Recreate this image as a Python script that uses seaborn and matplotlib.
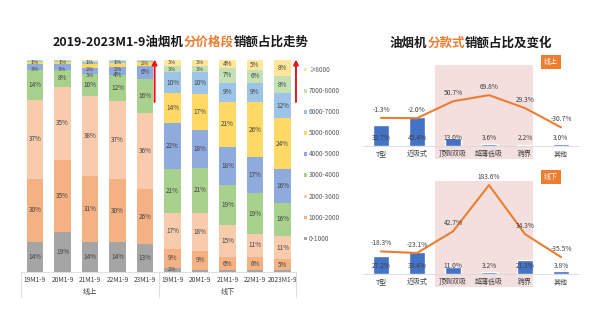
import numpy as np
import pandas as pd
import matplotlib
matplotlib.use("Agg")
import matplotlib.pyplot as plt
from matplotlib.patches import Patch
import seaborn as sns

sns.set_theme(style="white")
plt.rcParams['font.family'] = ['Noto Sans CJK SC', 'DejaVu Sans']
plt.rcParams['axes.unicode_minus'] = False

# ---------------- data ----------------
periods_online = ["19M1-9", "20M1-9", "21M1-9", "22M1-9", "23M1-9"]
periods_offline = ["19M1-9", "20M1-9", "21M1-9", "22M1-9", "2023M1-9"]
channels = ["线上", "线下"]
price_bands = ["0-1000", "1000-2000", "2000-3000", "3000-4000", "4000-5000",
               "5000-6000", "6000-7000", "7000-8000", "≥8000"]
# shares (%) per price band, 5 online bars then 5 offline bars
band_0_1000 = [14, 19, 14, 14, 13, 2, 1, 1, 1, 1]
band_1000_2000 = [30, 35, 31, 30, 26, 9, 9, 6, 6, 5]
band_2000_3000 = [37, 35, 38, 37, 36, 17, 18, 15, 11, 11]
band_3000_4000 = [14, 8, 10, 12, 16, 21, 21, 19, 19, 16]
band_4000_5000 = [3, 3, 3, 4, 6, 22, 18, 18, 17, 16]
band_5000_6000 = [1, 1, 2, 2, 2, 14, 17, 21, 26, 24]
band_6000_7000 = [0.5, 0.5, 1, 1, 0.5, 10, 10, 9, 9, 12]
band_7000_8000 = [0.3, 0.3, 0.5, 0.3, 0.3, 3, 3, 7, 6, 8]
band_8000_up = [0.2, 0.2, 0.5, 0.2, 0.2, 3, 3, 4, 5, 8]

styles = ["T型", "近吸式", "顶侧双吸", "超薄低吸", "跨界", "其他"]
online_share = [32.7, 45.4, 13.0, 3.6, 2.2, 3.0]
online_change = [-1.3, -2.0, 50.7, 69.8, 29.3, -30.7]
offline_share = [27.2, 33.4, 11.0, 3.2, 21.3, 3.8]
offline_change = [-18.3, -23.1, 42.7, 183.6, 34.3, -35.5]

band_colors = ['#a5a5a5', '#f4b183', '#f8cbad', '#a9d18e', '#8faadc',
               '#ffd966', '#9dc3e6', '#c5e0b4', '#ffe699']
BAR_BLUE = '#4472c4'
LINE_ORANGE = '#ed7d31'
TXT = '#404040'

W, H = 600, 327
fig = plt.figure(figsize=(W / 100, H / 100), dpi=100)


def fx(px):
    return px / W


def fy(py):
    return 1 - py / H


# ---------------- left stacked chart ----------------
bands = [band_0_1000, band_1000_2000, band_2000_3000, band_3000_4000, band_4000_5000,
         band_5000_6000, band_6000_7000, band_7000_8000, band_8000_up]
keys = [f"{c}|{p}" for c, ps in zip(channels, [periods_online, periods_offline]) for p in ps]
tick_labels = periods_online + periods_offline
vals = np.array(bands, dtype=float)
heights = vals / vals.sum(axis=0) * 100
cum = np.cumsum(heights, axis=0)

axL = fig.add_axes([fx(21.25), fy(272), fx(275), (272 - 59.5) / H])
for i in range(len(bands) - 1, -1, -1):
    df = pd.DataFrame({"key": keys, "top": cum[i]})
    sns.barplot(data=df, x="key", y="top", order=keys, color=band_colors[i],
                saturation=1, width=0.6, errorbar=None, ax=axL, edgecolor='none')
for j in range(len(keys)):
    prev = 101.5
    for i in range(len(bands) - 1, -1, -1):
        v = vals[i, j]
        if v >= 2 or (v >= 1 and i > 0):
            yc = min(cum[i, j] - heights[i, j] / 2, prev - 3.0)
            prev = yc
            axL.text(j, yc, f"{v:.0f}%", ha='center', va='center',
                     fontsize=4.6 if v >= 4 else 4.1, color=TXT)
axL.set_ylim(0, 100)
axL.set_xlim(-0.5, len(keys) - 0.5)
axL.set_yticks([])
axL.set_xlabel("")
axL.set_ylabel("")
axL.set_xticks(range(len(keys)))
axL.set_xticklabels(tick_labels, fontsize=4.8, color=TXT)
axL.tick_params(axis='x', length=0, pad=3)
for s in ['top', 'right', 'left']:
    axL.spines[s].set_visible(False)
axL.spines['bottom'].set_color('#d9d9d9')
axL.spines['bottom'].set_linewidth(0.6)
trans = axL.get_xaxis_transform()
for xv in [-0.5, 4.5, 9.5]:
    axL.plot([xv, xv], [0, -0.118], transform=trans, clip_on=False,
             color='#d9d9d9', lw=0.6)
for g, c in enumerate(channels):
    axL.text(2 + 5 * g, -0.094, c, transform=trans, ha='center', va='center',
             fontsize=5.2, color=TXT)
# red arrows
for xa in [4.35, 9.49]:
    axL.annotate("", xy=(xa, 100), xytext=(xa, 80), xycoords='data',
                 arrowprops=dict(arrowstyle='-|>', color='#e8141b', lw=1.4,
                                 mutation_scale=7, shrinkA=0, shrinkB=0),
                 annotation_clip=False)

# legend
handles = [Patch(facecolor=band_colors[i], edgecolor='none', label=price_bands[i])
           for i in range(len(price_bands) - 1, -1, -1)]
fig.legend(handles=handles, loc='upper left', bbox_to_anchor=(fx(304), fy(66)),
           frameon=False, fontsize=4.6, handlelength=0.45, handleheight=0.45,
           handletextpad=0.3, labelspacing=2.05, labelcolor='#595959',
           borderaxespad=0, borderpad=0)


# ---------------- right combo charts ----------------
def combo(top_px, bot_px, share, change, bar_max, line_lo, line_hi, badge, badge_y):
    ax = fig.add_axes([fx(363), fy(bot_px), fx(216), (bot_px - top_px) / H])
    i0, i1 = styles.index("顶侧双吸"), styles.index("跨界")
    shade_bottom = -13.0 / (bot_px - top_px)
    ax.axvspan(i0 - 0.5, i1 + 0.22, ymin=shade_bottom, ymax=1.0, color='#f3dfde',
               zorder=0, lw=0, clip_on=False)
    df = pd.DataFrame({"style": styles, "share": share})
    sns.barplot(data=df, x="style", y="share", order=styles, color=BAR_BLUE,
                saturation=1, width=0.42, errorbar=None, ax=ax, zorder=2)
    for k, v in enumerate(share):
        ax.annotate(f"{v:.1f}%", xy=(k, 0), xytext=(0, 5.5), textcoords='offset points',
                    ha='center', va='center', fontsize=4.8, color=TXT, zorder=5)
    ax.set_ylim(0, bar_max)
    ax.set_xlim(-0.5, len(styles) - 0.5)
    ax.set_yticks([])
    ax.set_xlabel("")
    ax.set_ylabel("")
    ax.tick_params(axis='x', length=0, pad=3, labelsize=5, labelcolor=TXT)
    for s in ['top', 'right', 'left']:
        ax.spines[s].set_visible(False)
    ax.spines['bottom'].set_color('#d9d9d9')
    ax.spines['bottom'].set_linewidth(0.6)
    ax2 = ax.twinx()
    sns.lineplot(x=np.arange(len(styles)), y=change, color=LINE_ORANGE, lw=1.5, ax=ax2)
    for k, v in enumerate(change):
        ax2.annotate(f"{v:.1f}%", xy=(k, v), xytext=(0, 6), textcoords='offset points',
                     ha='center', va='center', fontsize=4.8, color=TXT,
                     annotation_clip=False)
    ax2.set_ylim(line_lo, line_hi)
    ax2.set_yticks([])
    ax2.set_ylabel("")
    for s in ['top', 'right', 'left', 'bottom']:
        ax2.spines[s].set_visible(False)
    fig.text(fx(551), fy(badge_y), badge, ha='center', va='center', fontsize=5,
             color='white',
             bbox=dict(boxstyle='square,pad=0.45', facecolor=LINE_ORANGE, edgecolor='none'))


combo(65, 146, online_share, online_change, 125, -89, 164, channels[0], 62)
combo(181, 274, offline_share, offline_change, 141, -87, 196, channels[1], 177)


# ---------------- titles ----------------
def color_title(parts, cx, cy, size=9):
    r = fig.canvas.get_renderer()
    texts = [fig.text(0, fy(cy), s, color=c, fontsize=size, fontweight='bold',
                      ha='left', va='center') for s, c in parts]
    widths = [t.get_window_extent(r).width for t in texts]
    x0 = cx - sum(widths) / 2
    for t, w in zip(texts, widths):
        t.set_x(fx(x0))
        x0 += w


color_title([("2019-2023M1-9油烟机", '#1a1a1a'), ("分价格段", LINE_ORANGE),
             ("销额占比走势", '#1a1a1a')], 181, 42)
color_title([("油烟机", '#1a1a1a'), ("分款式", LINE_ORANGE),
             ("销额占比及变化", '#1a1a1a')], 471, 43)

fig.savefig("out.png", dpi=100, facecolor='white')
